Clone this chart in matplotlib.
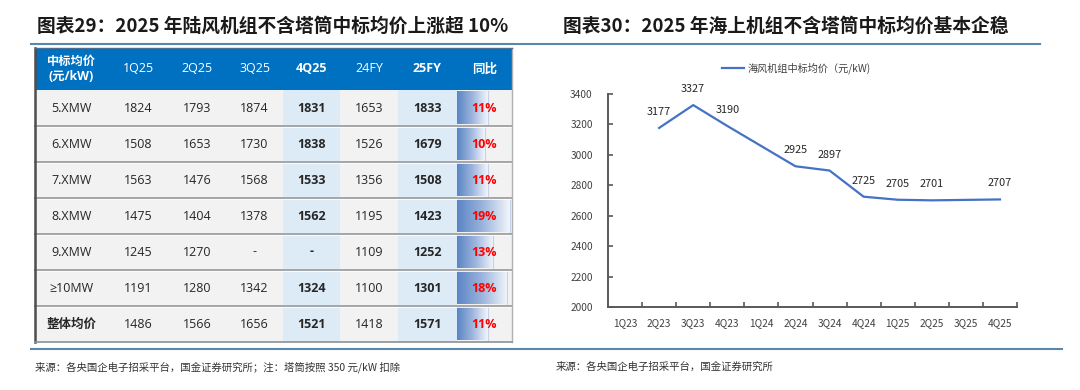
import matplotlib.pyplot as plt
import numpy as np
from matplotlib.colors import LinearSegmentedColormap
from matplotlib.patches import Rectangle

plt.rcParams['font.family'] = ['Noto Sans CJK SC', 'DejaVu Sans']
TABLE_FONT = ['Open Sans', 'DejaVu Sans', 'Noto Sans CJK SC']

# ---- left table: onshore bid prices (yuan/kW) ----
row_names = ['5.XMW', '6.XMW', '7.XMW', '8.XMW', '9.XMW', '≥10MW', '整体均价']
col_names = ['1Q25', '2Q25', '3Q25', '4Q25', '24FY', '25FY', '同比']
q1_25 = [1824, 1508, 1563, 1475, 1245, 1191, 1486]
q2_25 = [1793, 1653, 1476, 1404, 1270, 1280, 1566]
q3_25 = [1874, 1730, 1568, 1378, None, 1342, 1656]
q4_25 = [1831, 1838, 1533, 1562, None, 1324, 1521]
fy24 = [1653, 1526, 1356, 1195, 1109, 1100, 1418]
fy25 = [1833, 1679, 1508, 1423, 1252, 1301, 1571]
yoy = [11, 10, 11, 19, 13, 18, 11]

# ---- right chart: offshore bid price ----
quarters = ['1Q23', '2Q23', '3Q23', '4Q23', '1Q24', '2Q24', '3Q24', '4Q24',
            '1Q25', '2Q25', '3Q25', '4Q25']
offshore = [np.nan, 3177, 3327, 3190, np.nan, 2925, 2897, 2725, 2705, 2701, np.nan, 2707]

title_l = '图表29：2025 年陆风机组不含塔筒中标均价上涨超 10%'
title_r = '图表30：2025 年海上机组不含塔筒中标均价基本企稳'
src_l = '来源：各央国企电子招采平台，国金证券研究所；注：塔筒按照 350 元/kW 扣除'
src_r = '来源：各央国企电子招采平台，国金证券研究所'

fig = plt.figure(figsize=(10.8, 3.9), dpi=100)
fig.patch.set_facecolor('white')

# canvas axes in pixel units
ax = fig.add_axes([0, 0, 1, 1])
ax.set_xlim(0, 1080)
ax.set_ylim(390, 0)
ax.axis('off')

# titles and rules
ax.text(37, 26, title_l, fontsize=13.5, fontweight='bold', color='#1a1a1a', va='center', ha='left')
ax.text(563, 26, title_r, fontsize=13.5, fontweight='bold', color='#1a1a1a', va='center', ha='left')
ax.plot([31, 1040], [44, 44], color='#5b87aa', lw=1.5)
ax.plot([31, 1062], [349, 349], color='#5b87aa', lw=1.5)
ax.text(35, 367, src_l, fontsize=7.5, color='#333333', va='center', ha='left')
ax.text(556, 367, src_r, fontsize=7.5, color='#333333', va='center', ha='left')

# table geometry
edges = [35, 108, 168, 226, 283, 340, 398, 457, 512]
top, head_h, row_h = 48, 42, 36
body_top = top + head_h
n_rows = len(row_names)
bottom = body_top + n_rows * row_h

ax.add_patch(Rectangle((edges[0], top), edges[-1] - edges[0], head_h, color='#0070c0', lw=0))
ax.add_patch(Rectangle((edges[0], body_top), edges[-1] - edges[0], n_rows * row_h, color='#f2f2f2', lw=0))
for c in (4, 6):
    ax.add_patch(Rectangle((edges[c], body_top), edges[c + 1] - edges[c], n_rows * row_h,
                           color='#ddebf7', lw=0))

# header
def cx(i):
    return (edges[i] + edges[i + 1]) / 2

ax.text(cx(0), top + head_h / 2, '中标均价\n(元/kW)', color='white', fontsize=8.8,
        fontweight='bold', ha='center', va='center', linespacing=1.25, family=TABLE_FONT)
for j, name in enumerate(col_names):
    bold = name in ('4Q25', '25FY', '同比')
    ax.text(cx(j + 1), top + head_h / 2, name, color='white', fontsize=9, family=TABLE_FONT,
            fontweight='bold' if bold else 'normal', ha='center', va='center')

# data bars for yoy column
cmap = LinearSegmentedColormap.from_list('bar', ['#5a85c5', '#9db5dd', '#f3f6fb'])
grad = np.linspace(0, 1, 200).reshape(1, -1)
bar_unit = (edges[-1] - 2 - edges[7]) / max(yoy)
columns = [q1_25, q2_25, q3_25, q4_25, fy24, fy25]
for i in range(n_rows):
    y0 = body_top + i * row_h
    yc = y0 + row_h / 2
    x0 = edges[7]
    x1 = x0 + yoy[i] * bar_unit
    ax.imshow(grad, cmap=cmap, aspect='auto', extent=[x0, x1, y0 + row_h - 2, y0 + 1], zorder=2)
    ax.plot([x1, x1], [y0 + 1, y0 + row_h - 2], color='#c5d3ea', lw=0.8, zorder=2)
    ax.text(cx(0), yc, row_names[i], fontsize=9, color='#262626', ha='center', va='center',
            fontweight='bold' if i == n_rows - 1 else 'normal', zorder=3, family=TABLE_FONT)
    for j, col in enumerate(columns):
        v = col[i]
        bold = j in (3, 5)
        ax.text(cx(j + 1), yc, '-' if v is None else str(v), fontsize=9, color='#262626',
                ha='center', va='center', fontweight='bold' if bold else 'normal', zorder=3,
                family=TABLE_FONT)
    ax.text(cx(7), yc, f'{yoy[i]}%', fontsize=9, color='#ff0000', fontweight='bold',
            ha='center', va='center', zorder=3, family=TABLE_FONT)
    if i > 0:
        ax.plot([edges[0], edges[-1]], [y0, y0], color='#a0a0a0', lw=1.3, zorder=4)
        ax.plot([edges[0], edges[-1]], [y0 + 1.2, y0 + 1.2], color='white', lw=0.6, zorder=4)

ax.plot([edges[0], edges[0]], [top, bottom], color='#4d4d4d', lw=1.8, zorder=5)
ax.plot([edges[-1], edges[-1]], [top, bottom], color='#b0b0b0', lw=1.0, zorder=5)
ax.plot([edges[0], edges[-1]], [bottom, bottom], color='#909090', lw=1.2, zorder=5)
ax.plot([edges[0], edges[-1]], [top, top], color='#4a6f95', lw=1.0, zorder=5)

# ---- right line chart ----
lx0, lx1, ly_top, ly_bot = 608, 1017, 94, 307
ax2 = fig.add_axes([lx0 / 1080, 1 - ly_bot / 390, (lx1 - lx0) / 1080, (ly_bot - ly_top) / 390])
ax2.set_facecolor('none')
xs = np.arange(len(quarters))
vals = np.array(offshore, dtype=float)
ok = ~np.isnan(vals)
ax2.plot(xs[ok], vals[ok], color='#4472c4', lw=1.6, label='海风机组中标均价（元/kW)')
for x, v in zip(xs[ok], vals[ok]):
    ax2.annotate(f'{int(v)}', (x, v), xytext=(0, 11.5), textcoords='offset points',
                 ha='center', va='center', fontsize=7.8, color='#262626')
ax2.set_xlim(-0.5, len(quarters) - 0.5)
ax2.set_ylim(2000, 3400)
ax2.set_yticks(np.arange(2000, 3401, 200))
ax2.set_xticks(xs)
ax2.set_xticklabels(quarters)
ax2.set_xticks(np.arange(0.5, len(quarters)), minor=True)
ax2.tick_params(axis='x', which='major', length=0, labelsize=7.3, colors='#404040', pad=8)
ax2.tick_params(axis='x', which='minor', direction='in', length=3.5, width=1.2, color='#595959')
ax2.tick_params(axis='y', direction='in', length=3.5, width=1.2, color='#595959',
                labelsize=7.3, labelcolor='#404040', pad=11)
for s in ('top', 'right'):
    ax2.spines[s].set_visible(False)
for s in ('left', 'bottom'):
    ax2.spines[s].set_color('#595959')
    ax2.spines[s].set_linewidth(1.4)
fig.legend(handles=ax2.get_lines(), loc='center', bbox_to_anchor=(796 / 1080, 1 - 68 / 390),
           frameon=False, fontsize=7.3, handlelength=2.2, handletextpad=0.3,
           labelcolor='#404040')

ax.set_xlim(0, 1080)
ax.set_ylim(390, 0)
fig.savefig('out.png', dpi=100)
